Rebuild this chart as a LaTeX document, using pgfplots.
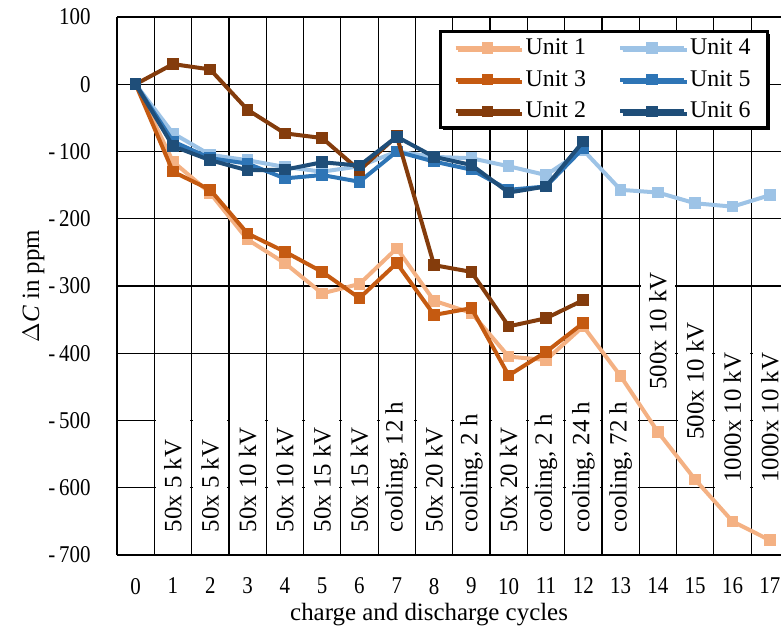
\documentclass[border=0pt]{standalone}
\usepackage{fontspec}
\setmainfont{Liberation Serif}
\usepackage{pgfplots}
\pgfplotsset{compat=1.18}
\usetikzlibrary{shadows}
\definecolor{uone}{HTML}{F4B183}
\definecolor{uthree}{HTML}{C55A11}
\definecolor{utwo}{HTML}{843C0C}
\definecolor{ufour}{HTML}{9DC3E6}
\definecolor{ufive}{HTML}{2E75B6}
\definecolor{usix}{HTML}{1F4E79}
\newcommand{\ngv}[1]{\llap{-\kern2bp}#1}
\begin{document}
\begin{tikzpicture}
\useasboundingbox (-58.5bp,-39bp) rectangle (332bp,277.5bp);
\begin{axis}[
  at={(0,0)}, anchor=south west,
  scale only axis, width=332bp, height=269bp,
  clip mode=individual,
  xmin=-0.5, xmax=17.3, ymin=-700, ymax=100,
  axis lines=left,
  axis line style={-, line width=1.2bp, black},
  xtick={0,...,17},
  xticklabels={0,1,2,3,4,5,6,7,8,9,10,11,12,13,14,15,16,17},
  ytick={-700,-600,-500,-400,-300,-200,-100,0,100},
  yticklabels={,,,,,,,,},
  minor xtick={0.5,1.5,...,16.5},
  xminorgrids, ymajorgrids,
  grid style={black, line width=0.6bp},
  minor grid style={black, line width=0.6bp},
  major tick length=0pt, minor tick length=0pt,
  tick label style={font=\fontsize{10.5}{12}\selectfont, yscale=1.15},
  xticklabel style={yshift=-6.5bp},
  xlabel={charge and discharge cycles},
  ylabel={$\Delta$\textit{C} in ppm},
  every axis x label/.style={at={(axis description cs:0.47,0)}, anchor=base, yshift=-32.5bp, font=\fontsize{12.5}{14}\selectfont},
  every axis y label/.style={at={(axis description cs:0,0.5)}, xshift=-41.75bp, rotate=90, anchor=center, font=\fontsize{12.5}{14}\selectfont},
  every axis plot/.append style={line width=2bp, mark=square*, mark size=1.9bp, mark options={solid}},
  legend columns=2,
  legend cell align=left,
  legend style={at={(axis description cs:0.485,0.976)}, anchor=north west,
    draw=black, line width=1.6bp, fill=white,
    font=\fontsize{12}{14}\selectfont,
    inner xsep=6.5bp, inner ysep=1.5bp, row sep=2.5bp,
    drop shadow={shadow xshift=1.3bp, shadow yshift=-1.1bp, fill=black, opacity=1},
    /tikz/every even column/.append style={column sep=14bp}},
  legend image code/.code={\draw[mark repeat=2,mark phase=2,#1] plot coordinates {(0bp,0bp) (16bp,0bp) (32bp,0bp)};},
]
\tikzset{ylab/.style={anchor=east, xshift=-13bp, inner sep=0pt, yscale=1.15, font=\fontsize{10.5}{12}\selectfont}}
\node[ylab] at (axis cs:-0.5,100) {100};
\node[ylab] at (axis cs:-0.5,0) {0};
\node[ylab] at (axis cs:-0.5,-100) {\ngv{100}};
\node[ylab] at (axis cs:-0.5,-200) {\ngv{200}};
\node[ylab] at (axis cs:-0.5,-300) {\ngv{300}};
\node[ylab] at (axis cs:-0.5,-400) {\ngv{400}};
\node[ylab] at (axis cs:-0.5,-500) {\ngv{500}};
\node[ylab] at (axis cs:-0.5,-600) {\ngv{600}};
\node[ylab] at (axis cs:-0.5,-700) {\ngv{700}};
\fill[white] (axis cs:0.54,-693) rectangle (axis cs:1.46,-440);
\fill[white] (axis cs:1.54,-693) rectangle (axis cs:2.46,-440);
\fill[white] (axis cs:2.54,-693) rectangle (axis cs:3.46,-440);
\fill[white] (axis cs:3.54,-693) rectangle (axis cs:4.46,-440);
\fill[white] (axis cs:4.54,-693) rectangle (axis cs:5.46,-440);
\fill[white] (axis cs:5.54,-693) rectangle (axis cs:6.46,-440);
\fill[white] (axis cs:6.54,-693) rectangle (axis cs:7.46,-440);
\fill[white] (axis cs:7.54,-693) rectangle (axis cs:8.46,-440);
\fill[white] (axis cs:8.54,-693) rectangle (axis cs:9.46,-440);
\fill[white] (axis cs:9.54,-693) rectangle (axis cs:10.46,-440);
\fill[white] (axis cs:10.54,-693) rectangle (axis cs:11.46,-440);
\fill[white] (axis cs:11.54,-693) rectangle (axis cs:12.46,-440);
\fill[white] (axis cs:12.54,-693) rectangle (axis cs:13.46,-440);
\fill[white] (axis cs:13.54,-475) rectangle (axis cs:14.46,-250);
\fill[white] (axis cs:14.54,-550) rectangle (axis cs:15.46,-330);
\fill[white] (axis cs:15.54,-612) rectangle (axis cs:16.46,-375);
\fill[white] (axis cs:16.54,-612) rectangle (axis cs:17.3,-375);
\tikzset{lbl/.style={rotate=90, anchor=west, inner sep=0pt, font=\fontsize{12.5}{14}\selectfont}}
\node[lbl] at (axis cs:1,-667) {50x 5 kV};
\node[lbl] at (axis cs:2,-667) {50x 5 kV};
\node[lbl] at (axis cs:3,-667) {50x 10 kV};
\node[lbl] at (axis cs:4,-667) {50x 10 kV};
\node[lbl] at (axis cs:5,-667) {50x 15 kV};
\node[lbl] at (axis cs:6,-667) {50x 15 kV};
\node[lbl] at (axis cs:7,-667) {cooling, 12 h};
\node[lbl] at (axis cs:8,-667) {50x 20 kV};
\node[lbl] at (axis cs:9,-667) {cooling, 2 h};
\node[lbl] at (axis cs:10,-667) {50x 20 kV};
\node[lbl] at (axis cs:11,-667) {cooling, 2 h};
\node[lbl] at (axis cs:12,-667) {cooling, 24 h};
\node[lbl] at (axis cs:13,-667) {cooling, 72 h};
\node[lbl] at (axis cs:14,-455) {500x 10 kV};
\node[lbl] at (axis cs:15,-529) {500x 10 kV};
\node[lbl] at (axis cs:16,-593) {1000x 10 kV};
\node[lbl] at (axis cs:17,-593) {1000x 10 kV};

\addplot[color=uone] coordinates {(0,0)(1,-115)(2,-162)(3,-231)(4,-266)(5,-311)(6,-297)(7,-244)(8,-322)(9,-340)(10,-405)(11,-410)(12,-360)(13,-434)(14,-517)(15,-588)(16,-650)(17,-678)};
\addlegendentry{Unit 1}
\addplot[color=ufour] coordinates {(0,0)(1,-73)(2,-105)(3,-113)(4,-123)(5,-130)(6,-122)(7,-100)(8,-108)(9,-110)(10,-122)(11,-135)(12,-98)(13,-157)(14,-161)(15,-177)(16,-182)(17,-165)};
\addlegendentry{Unit 4}
\addplot[color=uthree] coordinates {(0,0)(1,-130)(2,-157)(3,-222)(4,-249)(5,-279)(6,-318)(7,-266)(8,-343)(9,-333)(10,-433)(11,-398)(12,-355)};
\addlegendentry{Unit 3}
\addplot[color=ufive] coordinates {(0,0)(1,-85)(2,-110)(3,-118)(4,-140)(5,-135)(6,-145)(7,-100)(8,-115)(9,-127)(10,-157)(11,-152)(12,-95)};
\addlegendentry{Unit 5}
\addplot[color=utwo] coordinates {(0,0)(1,30)(2,22)(3,-38)(4,-73)(5,-80)(6,-128)(7,-77)(8,-269)(9,-279)(10,-360)(11,-348)(12,-321)};
\addlegendentry{Unit 2}
\addplot[color=usix] coordinates {(0,0)(1,-92)(2,-113)(3,-128)(4,-127)(5,-116)(6,-121)(7,-78)(8,-108)(9,-120)(10,-161)(11,-152)(12,-85)};
\addlegendentry{Unit 6}
\end{axis}
\end{tikzpicture}
\end{document}
